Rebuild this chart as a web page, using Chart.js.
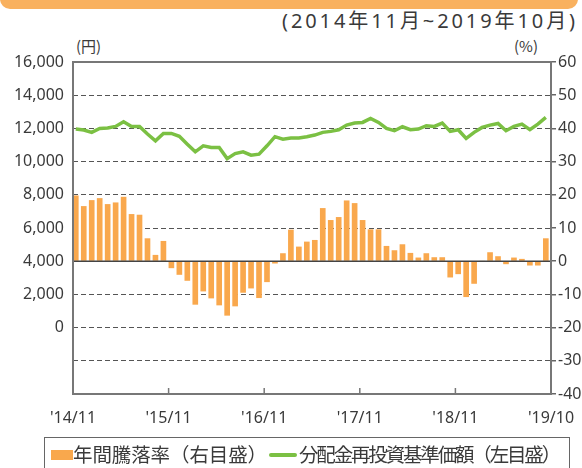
<!DOCTYPE html>
<html lang="ja">
<head>
<meta charset="utf-8">
<script src="https://cdn.jsdelivr.net/npm/chart.js@4.4.1/dist/chart.umd.min.js"></script>
<style>
  body { margin: 0; background: #fff; font-family: "Noto Sans", "Noto Sans CJK JP", sans-serif; color: #3a3a3a; }
  #wrap { position: relative; width: 582px; height: 468px; overflow: hidden; }
  #chartCanvas { position: absolute; left: 0; top: 0; }
  .band { position: absolute; left: 0; top: -12px; width: 578px; height: 21px; background: #f9b15f; border-radius: 10px; }
  .period { position: absolute; right: 4px; top: 9px; font-size: 20px; line-height: 24px; white-space: nowrap; font-family: "Noto Sans", "Noto Sans CJK JP", sans-serif; }
  .unit { position: absolute; top: 37px; font-size: 15px; line-height: 18px; font-family: "Noto Sans CJK JP", sans-serif; }
  .legend { position: absolute; left: 44px; top: 437px; width: 526px; height: 40px; border: 1.5px solid #666; box-sizing: border-box;
            font-family: "Noto Sans CJK JP", sans-serif; font-size: 19.5px; line-height: 24px; white-space: nowrap; }
  .legend span { position: absolute; top: 4px; }
  .swatch { position: absolute; left: 6px; top: 12px; width: 22px; height: 10px; background: #f9a84d; }
  .gline { position: absolute; left: 224px; top: 15px; width: 28px; height: 4px; background: #7bc043; border-radius: 2px; }
</style>
</head>
<body>
<div id="wrap">
  <div class="band"></div>
  <div class="period" id="period">(2014年11月~2019年10月)</div>
  <div class="unit" style="left:76px">(円)</div>
  <div class="unit" style="left:514px">(%)</div>
  <canvas id="chartCanvas" width="582" height="468"></canvas>
  <div class="legend">
    <div class="swatch"></div><span id="leg1" style="left:28px">年間騰落率（右目盛）</span>
    <div class="gline"></div><span id="leg2" style="left:254px">分配金再投資基準価額（左目盛）</span>
  </div>
</div>
<script>
// Tick labels on the time axis (month index where each sits)
const tickLabels = ["'14/11", "'15/11", "'16/11", "'17/11", "'18/11", "'19/10"];
const tickPositions = [0, 12, 24, 36, 48, 60];

// 年間騰落率 (%), Nov 2014 - Oct 2019
const returnRate = [
  19.7, 16.5, 18.3, 18.9, 17.1, 17.6, 19.3, 14.1, 13.9, 6.8,
  1.8, 6.0, -2.0, -4.0, -5.8, -13.0, -9.0, -11.1, -13.2, -16.3,
  -13.5, -9.4, -8.1, -11.0, -6.2, -0.6, 2.3, 9.4, 4.3, 5.8,
  6.3, 15.9, 12.3, 13.2, 18.2, 17.4, 12.3, 9.5, 9.5, 4.5,
  3.2, 5.0, 2.4, 1.0, 2.3, 1.1, 1.1, -4.8, -3.8, -10.7,
  -6.7, 0, 2.6, 1.4, -0.8, 1.0, 0.6, -1.2, -1.2, 6.8
];

// 分配金再投資基準価額 (円)
const navValue = [
  11960, 11900, 11760, 12000, 12020, 12120, 12400, 12120, 12120, 11660,
  11250, 11700, 11700, 11520, 11050, 10590, 10950, 10850, 10850, 10180,
  10480, 10590, 10390, 10450, 10950, 11500, 11350, 11420, 11420, 11500,
  11600, 11760, 11820, 11920, 12200, 12320, 12360, 12600, 12360, 12000,
  11860, 12100, 11920, 11960, 12160, 12120, 12320, 11820, 11920, 11400,
  11760, 12060, 12200, 12300, 11860, 12120, 12260, 11920, 12260, 12660
];

// stretch the html texts to the widths they have in the original
function fitText(id, width) {
  const el = document.getElementById(id);
  const n = el.textContent.length;
  const w = el.getBoundingClientRect().width;
  el.style.letterSpacing = ((width - w) / n) + 'px';
}
fitText('period', 296);
fitText('leg1', 194);
fitText('leg2', 260);

const barOffset = 0.35; // bars sit inside each month slot

// frame, zero line and inward ticks on the time axis
const framePlugin = {
  id: 'frame',
  afterDatasetsDraw(chart) {
    const { ctx, chartArea: a, scales } = chart;
    ctx.save();
    ctx.strokeStyle = '#444';
    ctx.lineWidth = 1.5;
    const y0 = scales.yR.getPixelForValue(0);
    ctx.beginPath();
    ctx.moveTo(a.left, y0);
    ctx.lineTo(a.right, y0);
    ctx.stroke();
    ctx.strokeStyle = '#777';
    ctx.lineWidth = 2;
    ctx.strokeRect(a.left, a.top, a.right - a.left, a.bottom - a.top);
    ctx.lineWidth = 1.5;
    tickPositions.slice(1, -1).forEach(v => {
      const x = scales.x.getPixelForValue(v);
      ctx.beginPath();
      ctx.moveTo(x, a.bottom);
      ctx.lineTo(x, a.bottom - 6);
      ctx.stroke();
    });
    ctx.restore();
  }
};

const ctx = document.getElementById('chartCanvas').getContext('2d');
const tickFont = { family: '"Noto Sans", sans-serif', size: 16 };

new Chart(ctx, {
  type: 'bar',
  data: {
    datasets: [{
      type: 'line',
      label: '分配金再投資基準価額（左目盛）',
      data: navValue.map((v, i) => ({ x: i + barOffset, y: v })),
      yAxisID: 'yL',
      borderColor: '#7bc043',
      borderWidth: 3.5,
      pointRadius: 0,
      tension: 0,
      order: 0
    }, {
      type: 'bar',
      label: '年間騰落率（右目盛）',
      data: returnRate.map((v, i) => ({ x: i + barOffset, y: v })),
      yAxisID: 'yR',
      backgroundColor: '#f9a84d',
      barThickness: 5,
      order: 1
    }]
  },
  options: {
    responsive: false,
    animation: false,
    layout: { padding: { top: 62, left: 0, right: 0, bottom: 0 } },
    plugins: { legend: { display: false }, tooltip: { enabled: false } },
    scales: {
      x: {
        type: 'linear',
        min: 0,
        max: 60,
        offset: false,
        grid: { display: false },
        border: { display: false },
        afterBuildTicks: scale => { scale.ticks = tickPositions.map(v => ({ value: v })); },
        afterFit: scale => { scale.height = 74; },
        ticks: {
          autoSkip: false,
          maxRotation: 0,
          padding: 7,
          color: '#3a3a3a',
          font: tickFont,
          callback: v => tickLabels[tickPositions.indexOf(v)]
        }
      },
      yL: {
        position: 'left',
        min: -4000,
        max: 16000,
        afterFit: scale => { scale.width = 73; },
        grid: { color: '#555', lineWidth: 1, drawTicks: false },
        border: { display: false, dash: [5, 3] },
        ticks: {
          stepSize: 2000,
          padding: 9,
          color: '#3a3a3a',
          font: tickFont,
          callback: v => v < 0 ? '' : v.toLocaleString('en-US')
        }
      },
      yR: {
        position: 'right',
        min: -40,
        max: 60,
        afterFit: scale => { scale.width = 31; },
        grid: { drawOnChartArea: false, drawTicks: true, tickLength: 5, color: '#666', lineWidth: 1.5 },
        border: { display: false },
        ticks: {
          stepSize: 10,
          padding: 2,
          color: '#3a3a3a',
          font: tickFont
        }
      }
    }
  },
  plugins: [framePlugin]
});
</script>
</body>
</html>
